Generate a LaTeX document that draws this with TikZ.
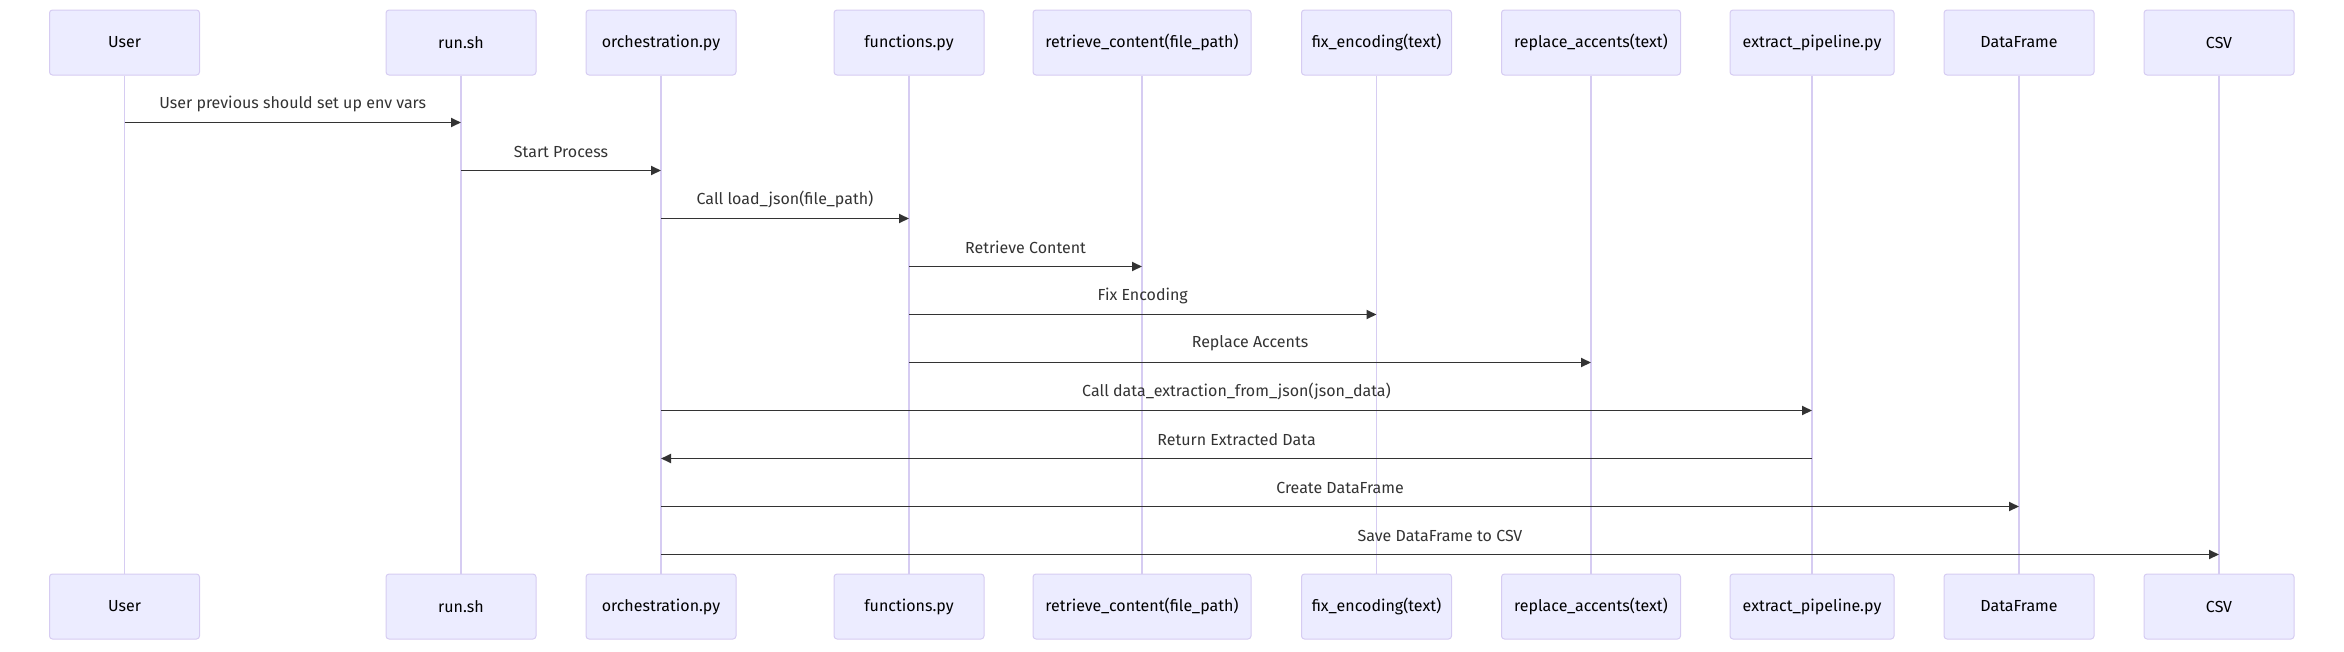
\documentclass[tikz,border=0pt]{standalone}
\usepackage{fontspec}
\setmainfont{Fira Sans}
\usetikzlibrary{arrows.meta}
\definecolor{actorfill}{HTML}{ECECFF}
\definecolor{actorborder}{HTML}{D6CCF2}
\definecolor{lifecol}{HTML}{D6CCF2}
\definecolor{msgcol}{HTML}{333333}
\tikzset{
  actor/.style={draw=actorborder, fill=actorfill, line width=1pt, rounded corners=3pt,
    minimum height=65pt, minimum width=150pt, inner sep=0pt, text=black,
    font=\fontsize{16}{19}\selectfont},
  lifeline/.style={draw=lifecol, line width=1.2pt},
  msg/.style={draw=msgcol, line width=1.8pt, -{Triangle[length=10pt,width=9pt]}},
  lbl/.style={text=msgcol, font=\fontsize{16}{19}\selectfont, inner sep=0pt}
}
\begin{document}
\begin{tikzpicture}[x=1pt,y=-1pt]
\useasboundingbox (0,0) rectangle (2344,651);
% top actors
\node[actor] (tU) at (124.5,42.5) {User};
\node[actor] (tR) at (461,42.5) {run.sh};
\node[actor] (tO) at (661,42.5) {orchestration.py};
\node[actor] (tF) at (909,42.5) {functions.py};
\node[actor, minimum width=218pt] (tC) at (1142,42.5) {retrieve\_content(file\_path)};
\node[actor] (tE) at (1376.5,42.5) {fix\_encoding(text)};
\node[actor, minimum width=179pt] (tA) at (1591,42.5) {replace\_accents(text)};
\node[actor, minimum width=164pt] (tP) at (1812,42.5) {extract\_pipeline.py};
\node[actor] (tD) at (2019,42.5) {DataFrame};
\node[actor] (tV) at (2219,42.5) {CSV};
% bottom actors
\node[actor] (bU) at (124.5,606.5) {User};
\node[actor] (bR) at (461,606.5) {run.sh};
\node[actor] (bO) at (661,606.5) {orchestration.py};
\node[actor] (bF) at (909,606.5) {functions.py};
\node[actor, minimum width=218pt] (bC) at (1142,606.5) {retrieve\_content(file\_path)};
\node[actor] (bE) at (1376.5,606.5) {fix\_encoding(text)};
\node[actor, minimum width=179pt] (bA) at (1591,606.5) {replace\_accents(text)};
\node[actor, minimum width=164pt] (bP) at (1812,606.5) {extract\_pipeline.py};
\node[actor] (bD) at (2019,606.5) {DataFrame};
\node[actor] (bV) at (2219,606.5) {CSV};
% lifelines
\foreach \n in {U,R,O,F,C,E,A,P,D,V}{
  \draw[lifeline] (t\n.south) -- (b\n.north);
}
% message rows
\foreach \i in {0,...,9}{
  \coordinate (y\i) at (0,{122.5+48*\i});
}
\draw[msg] (tU |- y0) -- (tR |- y0) node[lbl, midway, yshift=19pt] {User previous should set up env vars};
\draw[msg] (tR |- y1) -- (tO |- y1) node[lbl, midway, yshift=19pt] {Start Process};
\draw[msg] (tO |- y2) -- (tF |- y2) node[lbl, midway, yshift=19pt] {Call load\_json(file\_path)};
\draw[msg] (tF |- y3) -- (tC |- y3) node[lbl, midway, yshift=19pt] {Retrieve Content};
\draw[msg] (tF |- y4) -- (tE |- y4) node[lbl, midway, yshift=19pt] {Fix Encoding};
\draw[msg] (tF |- y5) -- (tA |- y5) node[lbl, midway, yshift=19pt] {Replace Accents};
\draw[msg] (tO |- y6) -- (tP |- y6) node[lbl, midway, yshift=19pt] {Call data\_extraction\_from\_json(json\_data)};
\draw[msg] (tP |- y7) -- (tO |- y7) node[lbl, midway, yshift=19pt] {Return Extracted Data};
\draw[msg] (tO |- y8) -- (tD |- y8) node[lbl, midway, yshift=19pt] {Create DataFrame};
\draw[msg] (tO |- y9) -- (tV |- y9) node[lbl, midway, yshift=19pt] {Save DataFrame to CSV};
\end{tikzpicture}
\end{document}
